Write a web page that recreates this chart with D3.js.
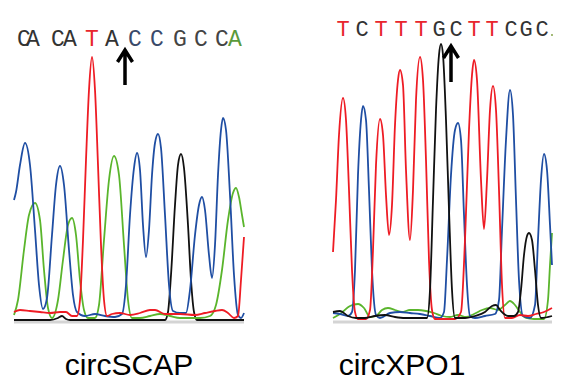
<!DOCTYPE html>
<html><head><meta charset="utf-8">
<script src="https://cdn.jsdelivr.net/npm/d3@7"></script>
<style>html,body{margin:0;padding:0;background:#fff;}svg{display:block;}</style>
</head><body>
<svg id="chart" width="587" height="391"></svg>
<script>
// ---- DATA (scan position, signal intensity) ----
const leftBlue = [[0,120],[2,128],[6,155],[11,177],[16,155],[21,90],[25,35],[29,11],[33,22],[38,85],[42,135],[46,154],[50,135],[55,70],[59,25],[63,8],[71,4],[81,6],[91,4],[101,3],[108,6],[112,35],[116,105],[120,152],[123,167],[126,150],[129,95],[132,63],[135,90],[138,145],[141,177],[144,186],[147,172],[151,105],[155,35],[159,9],[166,7],[172,7],[176,30],[181,85],[185,115],[188,123],[191,110],[195,65],[198,42],[201,75],[204,145],[207,190],[209,202],[212,190],[216,125],[220,45],[224,5],[227,2],[230,7]];
const leftGreen = [[0,5],[4,20],[10,70],[15,105],[21,117],[26,100],[30,50],[34,12],[38,2],[44,20],[49,60],[54,95],[58,102],[62,85],[66,40],[70,10],[74,2],[81,2],[85,15],[90,80],[95,140],[100,164],[105,145],[110,75],[114,20],[118,2],[126,2],[136,4],[146,6],[156,4],[166,2],[186,2],[196,4],[202,15],[208,50],[214,100],[219,127],[222,132],[225,123],[228,105],[230,93]];
const leftRed = [[0,8],[6,10],[16,9],[26,8],[36,7],[46,8],[52,8],[58,4],[63,4],[66,20],[69,80],[72,160],[75,230],[78,263],[81,230],[84,155],[87,75],[90,20],[93,4],[98,6],[106,7],[116,5],[126,7],[136,10],[141,10],[151,6],[166,6],[181,5],[191,7],[201,9],[208,10],[214,7],[220,2],[224,4],[227,40],[230,83]];
const leftBlack = [[0,0],[36,0],[44,2],[48,4],[52,1],[56,0],[151,0],[154,8],[157,45],[161,115],[164,155],[167,166],[170,152],[174,95],[177,40],[180,8],[183,0],[230,0]];

const rightRed = [[0,68],[3,120],[6,185],[10,222],[13,200],[16,130],[19,50],[22,8],[25,1],[33,1],[37,10],[40,70],[43,155],[47,201],[50,185],[53,125],[56,85],[59,115],[62,195],[65,240],[67,250],[70,235],[73,150],[77,80],[80,130],[83,220],[87,263],[90,240],[93,160],[96,60],[99,10],[102,1],[112,1],[122,1],[128,8],[132,80],[136,190],[139,245],[141,260],[144,240],[148,140],[151,91],[154,140],[157,210],[160,234],[163,210],[166,130],[169,35],[172,2],[179,2],[187,5],[195,4],[203,6],[211,8],[219,12]];
const rightBlue = [[0,7],[7,6],[15,4],[19,8],[22,50],[25,145],[28,200],[30,214],[33,200],[36,130],[39,50],[43,5],[47,2],[57,7],[67,8],[77,7],[87,6],[97,4],[107,2],[111,8],[114,60],[118,145],[122,190],[125,197],[128,180],[131,105],[134,35],[137,4],[142,2],[152,4],[162,6],[166,20],[169,90],[173,180],[177,230],[180,205],[183,120],[186,40],[190,4],[197,2],[202,15],[205,80],[208,140],[211,166],[214,150],[217,95],[219,55]];
const rightBlack = [[0,8],[7,9],[15,4],[23,2],[32,2],[42,4],[52,5],[62,3],[72,2],[87,2],[94,2],[97,30],[100,120],[103,210],[106,265],[108,276],[110,265],[113,200],[116,110],[119,30],[122,2],[132,2],[142,4],[152,8],[159,14],[163,15],[167,10],[175,4],[181,4],[185,8],[188,30],[191,65],[194,84],[196,87],[199,80],[202,50],[205,15],[208,2],[219,4]];
const rightGreen = [[0,2],[7,6],[17,14],[25,16],[31,12],[37,3],[43,4],[49,10],[55,12],[62,10],[69,8],[77,10],[85,10],[93,9],[101,7],[109,4],[117,3],[125,5],[133,3],[141,6],[149,10],[157,12],[165,10],[172,15],[177,19],[182,15],[187,8],[193,2],[201,1],[211,1],[215,20],[217,55],[219,87]];

const leftBases = ["C","A","C","A","T","A","C","C","G","C","C","A"];
const leftBasePos = [10,19,44,56,78,98,121,143,166,187,208,221];
const rightBases = ["T","C","T","T","T","G","C","T","T","C","G","C"];
const rightBasePos = [10,29,48,68,88,106,123,141,159,178,193,209];
const leftArrowPos = 111;
const rightArrowPos = 118;
const sampleNames = ["circSCAP","circXPO1"];

// ---- STYLE ----
const COL = {A:"#5ab52c", C:"#1f4ea3", G:"#111111", T:"#ee1c24"};
const leftBaseColors = ["#333","#333","#333","#333","#e8262d","#333","#3a4a6a","#3a4a6a","#444","#444","#444","#5a9a3a"];
const rightBaseColors = rightBases.map(b => b === "T" ? "#e8262d" : "#333");

const svg = d3.select("#chart");

const y = d3.scaleLinear().domain([0, 300]).range([320, 20]);

function panel(cfg) {
  const x = d3.scaleLinear().domain([0, cfg.span]).range([cfg.x0, cfg.x0 + cfg.width]);
  const g = svg.append("g");
  // gray baseline band
  g.append("line").attr("x1", x(0)).attr("x2", x(cfg.span))
    .attr("y1", y(0) + 2).attr("y2", y(0) + 2)
    .attr("stroke", "#d4d4d4").attr("stroke-width", 3);
  const line = d3.line().x(d => x(d[0])).y(d => y(d[1])).curve(d3.curveMonotoneX);
  cfg.traces.forEach(t => {
    g.append("path").datum(t.data).attr("d", line)
      .attr("fill", "none").attr("stroke", t.color).attr("stroke-width", 1.8)
      .attr("stroke-linejoin", "round");
  });
  // bases
  g.selectAll("text.base").data(cfg.bases).join("text").attr("class", "base")
    .attr("x", (d, i) => x(cfg.basePos[i]))
    .attr("y", cfg.baseY)
    .attr("text-anchor", "middle")
    .attr("font-family", "'Liberation Mono', 'Courier New', monospace")
    .attr("font-size", cfg.baseSize)
    .attr("fill", (d, i) => cfg.baseColors[i])
    .text(d => d);
  // arrow
  const ax = x(cfg.arrowPos);
  g.append("path")
    .attr("d", `M${ax},${cfg.arrowTop + 1}V${cfg.arrowBottom}M${ax - 7.5},${cfg.arrowTop + 12}L${ax},${cfg.arrowTop}L${ax + 7.5},${cfg.arrowTop + 12}`)
    .attr("fill", "none").attr("stroke", "#000").attr("stroke-width", 3.5)
    .attr("stroke-linejoin", "miter");
  // sample label
  g.append("text").attr("x", cfg.labelX).attr("y", 375)
    .attr("text-anchor", "middle")
    .attr("font-family", "'Liberation Sans', Arial, sans-serif")
    .attr("font-size", 30).attr("fill", "#000")
    .text(cfg.label);
  return {g, x};
}

panel({
  x0: 14, width: 230, span: 230,
  traces: [
    {data: leftBlack, color: COL.G},
    {data: leftGreen, color: COL.A},
    {data: leftBlue, color: COL.C},
    {data: leftRed, color: COL.T}
  ],
  bases: leftBases, basePos: leftBasePos, baseColors: leftBaseColors,
  baseY: 46, baseSize: 23,
  arrowPos: leftArrowPos, arrowTop: 50, arrowBottom: 85,
  label: sampleNames[0], labelX: 129
});

const right = panel({
  x0: 333, width: 219, span: 219,
  traces: [
    {data: rightGreen, color: COL.A},
    {data: rightBlue, color: COL.C},
    {data: rightRed, color: COL.T},
    {data: rightBlack, color: COL.G}
  ],
  bases: rightBases, basePos: rightBasePos, baseColors: rightBaseColors,
  baseY: 36, baseSize: 22,
  arrowPos: rightArrowPos, arrowTop: 46, arrowBottom: 82,
  label: sampleNames[1], labelX: 402
});
// trailing dot after the last called base
right.g.append("circle").attr("cx", right.x(219)).attr("cy", 35).attr("r", 0.9).attr("fill", "#7a9a3a");
</script>
</body></html>
